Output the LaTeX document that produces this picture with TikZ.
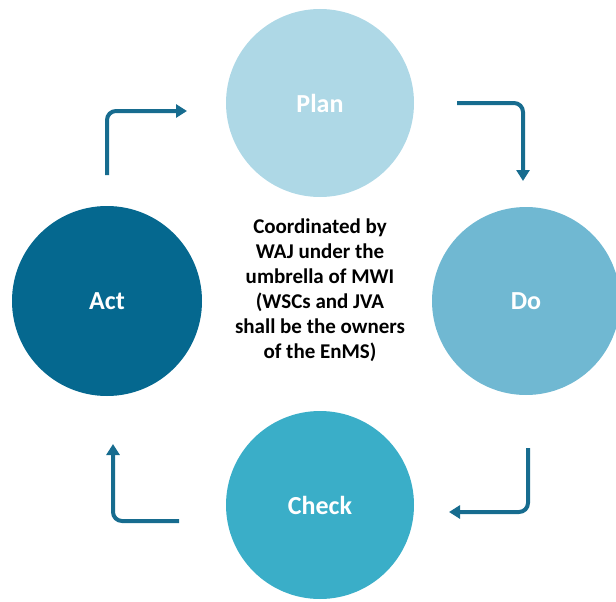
\documentclass[tikz,border=0pt]{standalone}
\usepackage{fontspec}
\setmainfont{Carlito}
\usepackage{xcolor}
\usepackage{tikz}
\usetikzlibrary{arrows.meta}

\definecolor{planblue}{HTML}{AED8E6}
\definecolor{doblue}{HTML}{70B8D2}
\definecolor{checkblue}{HTML}{3AAEC8}
\definecolor{actblue}{HTML}{05688F}
\definecolor{arrowblue}{HTML}{176C8F}

\begin{document}
\begin{tikzpicture}[x=1pt, y=-1pt,
    phase/.style={circle, minimum size=188pt, inner sep=0pt, text=white, font=\bfseries\fontsize{26}{30}\selectfont},
    cycle/.style={draw=arrowblue, line width=4pt, rounded corners=9pt, -{Triangle[length=11pt, width=13pt]}}]
    \useasboundingbox (0,0) rectangle (616,602);

    % PDCA circles
    \node[phase, fill=planblue] (plan) at (320,103) {Plan};
    \node[phase, fill=doblue] (do) at (526,301) {Do};
    \node[phase, fill=checkblue] (check) at (320,505) {Check};
    \node[phase, fill=actblue, minimum size=190pt] (act) at (107,301) {Act};

    % Centre text
    \node[align=center, font=\bfseries\fontsize{21}{25}\selectfont] (centre) at (320,290) {Coordinated by\\WAJ under the\\umbrella of MWI\\(WSCs and JVA\\shall be the owners\\of the EnMS)};

    % Arrow end points
    \coordinate (actout) at (107,175);
    \coordinate (planin) at (187,111);
    \coordinate (planout) at (457,103);
    \coordinate (doin) at (523,181);
    \coordinate (doout) at (528,448);
    \coordinate (checkin) at (449,512);
    \coordinate (checkout) at (179,521);
    \coordinate (actin) at (113,444);

    % Connections
    \draw[cycle] (actout) |- (planin);
    \draw[cycle] (planout) -| (doin);
    \draw[cycle] (doout) |- (checkin);
    \draw[cycle] (checkout) -| (actin);
\end{tikzpicture}
\end{document}
